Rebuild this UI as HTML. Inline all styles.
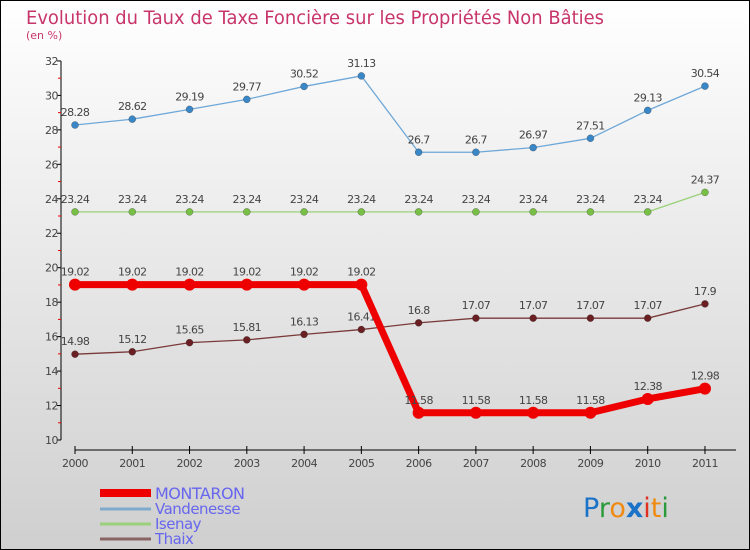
<!DOCTYPE html>
<html><head><meta charset="utf-8"><style>
body{margin:0;width:750px;height:550px;overflow:hidden}
svg{display:block;font-family:"DejaVu Sans","Liberation Sans",sans-serif}
</style></head><body>
<svg width="750" height="550" viewBox="0 0 750 550">
<defs><linearGradient id="bg" x1="0" y1="0" x2="0" y2="1"><stop offset="0" stop-color="#ffffff"/><stop offset="1" stop-color="#cfcfcf"/></linearGradient></defs>
<rect x="0.5" y="0.5" width="749" height="549" fill="url(#bg)" stroke="#000"/>
<text x="26" y="24" font-size="19" fill="#c8356a" textLength="578" lengthAdjust="spacingAndGlyphs">Evolution du Taux de Taxe Foncière sur les Propriétés Non Bâties</text>
<text x="26" y="39" font-size="11" fill="#c8356a">(en %)</text>
<g id="axes"></g><g id="series"></g><g id="legend"></g>
<text x="583" y="517" font-size="27" font-family="'DejaVu Sans',sans-serif"><tspan fill="#1a73c8">P</tspan><tspan fill="#2a9a3a">r</tspan><tspan fill="#f08a10">o</tspan><tspan fill="#1a73c8" font-weight="bold">x</tspan><tspan fill="#e03020">i</tspan><tspan fill="#f08a10">t</tspan><tspan fill="#2a9a3a">i</tspan></text>
</svg>
<script>
const years=["2000","2001","2002","2003","2004","2005","2006","2007","2008","2009","2010","2011"];
const yTicks=[10,12,14,16,18,20,22,24,26,28,30,32];
const montaron=[19.02,19.02,19.02,19.02,19.02,19.02,11.58,11.58,11.58,11.58,12.38,12.98];
const vandenesse=[28.28,28.62,29.19,29.77,30.52,31.13,26.7,26.7,26.97,27.51,29.13,30.54];
const isenay=[23.24,23.24,23.24,23.24,23.24,23.24,23.24,23.24,23.24,23.24,23.24,24.37];
const thaix=[14.98,15.12,15.65,15.81,16.13,16.41,16.8,17.07,17.07,17.07,17.07,17.9];
const NS="http://www.w3.org/2000/svg";
function X(i){return 75+i*57.27;}
function Y(v){return 440-(v-10)*17.23;}
function mk(tag,attrs,parent,txt){const e=document.createElementNS(NS,tag);for(const k in attrs)e.setAttribute(k,attrs[k]);if(txt!==undefined)e.textContent=txt;parent.appendChild(e);return e;}
const ax=document.getElementById('axes');
let yl=mk('line',{x1:61,y1:Y(32),x2:61,y2:Y(10),stroke:'#000'},ax);


yTicks.forEach(t=>{mk('line',{x1:57,y1:Y(t),x2:61,y2:Y(t),stroke:'#000'},ax);
 if(t<32)mk('line',{x1:58,y1:Y(t+1),x2:61,y2:Y(t+1),stroke:'#e00'},ax);
 let tl=mk('text',{x:58,y:Y(t)+4,'font-size':11,fill:'#444','text-anchor':'end','letter-spacing':'-0.5'},ax,String(t));
 
 });
let xl=mk('line',{x1:75,y1:450,x2:736,y2:450,stroke:'#000'},ax);


years.forEach((y,i)=>{mk('line',{x1:X(i),y1:446,x2:X(i),y2:454,stroke:'#000'},ax);
 let tl=mk('text',{x:X(i),y:467,'font-size':11,fill:'#444','text-anchor':'middle','letter-spacing':'-0.5'},ax,y);
 
 });
const sg=document.getElementById('series');
function draw(name,vals,color,w,r,dot){
 const g=mk('g',{},sg);
 
 
 mk('polyline',{points:vals.map((v,i)=>X(i)+','+Y(v)).join(' '),fill:'none',stroke:color,'stroke-width':w,'stroke-linejoin':'round'},g);
 vals.forEach((v,i)=>{const c=mk('circle',{cx:X(i),cy:Y(v),r:r,fill:dot,stroke:w>3?'none':'#333','stroke-width':0.3},g);
  
  
  const t=mk('text',{x:X(i),y:Y(v)-9,'font-size':11,fill:'#444','text-anchor':'middle','letter-spacing':'-0.6'},g,String(v));
  
  });
}
draw('vandenesse',vandenesse,'#6fa8d8',1.3,3.5,'#3a87c8');
draw('isenay',isenay,'#99d177',1.3,3.5,'#77c045');
draw('thaix',thaix,'#7a3a3a',1.3,3.5,'#6a1f22');
draw('montaron',montaron,'#ee0000',7,6,'#ee0000');
const lg=document.getElementById('legend');
const leg=[['MONTARON','#ee0000',8,'montaron'],['Vandenesse','#80aacc',3,'vandenesse'],['Isenay','#9cd07c',3,'isenay'],['Thaix','#8a6464',3,'thaix']];
const ly=[492,508,523,538];
leg.forEach((l,i)=>{const g=mk('g',{},lg);
 
 
 mk('line',{x1:100,y1:ly[i]+1,x2:151,y2:ly[i]+1,stroke:l[1],'stroke-width':l[2]},g);
 mk('text',{x:155,y:ly[i]+(i==0?7:6),'font-size':i==0?16:15,fill:'#6666ee','letter-spacing':'-0.5'},g,l[0]);});
</script>
</body></html>
